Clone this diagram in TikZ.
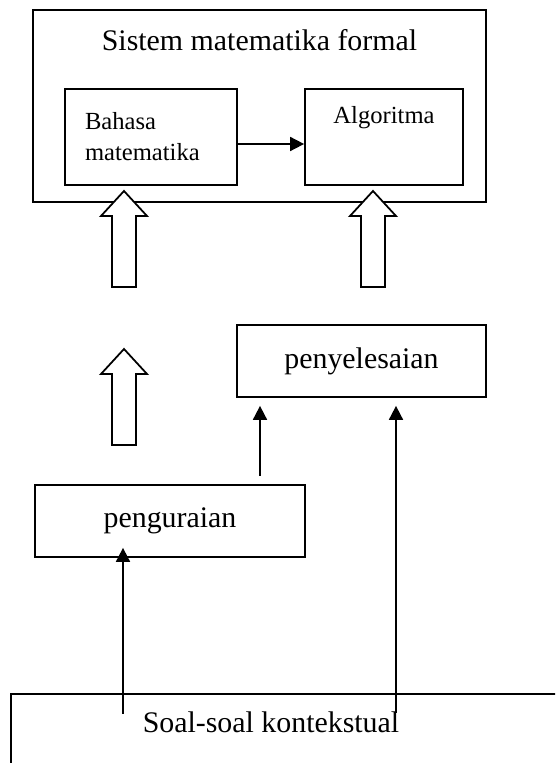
\documentclass[tikz,border=0pt]{standalone}
\usepackage{fontspec}
\setmainfont{Liberation Serif}
\usetikzlibrary{arrows.meta}

\tikzset{
  kotak/.style={draw, line width=1pt, rectangle, inner sep=0pt},
  panah/.style={-{Triangle[width=0.28cm,length=0.28cm]}, line width=1pt},
  besar/.style={font=\fontsize{17}{20}\selectfont},
  kecil/.style={font=\fontsize{14}{17.6}\selectfont},
  pics/blokpanah/.style={code={
    \draw[line width=1pt, fill=white] (-0.24,0) -- (-0.24,#1-0.5) -- (-0.46,#1-0.5) -- (0,#1)
      -- (0.46,#1-0.5) -- (0.24,#1-0.5) -- (0.24,0) -- cycle;
  }}
}

\begin{document}
\begin{tikzpicture}
    \useasboundingbox (0,0) rectangle (11.1,15.26);
    \clip (0,0) rectangle (11.1,15.26);

    % Kotak sistem matematika formal
    \node[kotak, minimum width=9.06cm, minimum height=3.84cm] (sistem) at (5.19,13.14) {};
    \node[besar, anchor=base] (judul) at (5.19,14.24) {Sistem matematika formal};

    % Panah blok
    \pic at (2.48,9.52) {blokpanah=1.92};
    \pic at (7.46,9.52) {blokpanah=1.92};
    \pic at (2.48,6.36) {blokpanah=1.92};

    % Kotak di dalam
    \node[kotak, kecil, minimum width=3.44cm, minimum height=1.92cm, text width=2.64cm, align=left] (bahasa) at (3.02,12.52) {Bahasa\\matematika};
    \node[kotak, kecil, minimum width=3.16cm, text height=0.7cm, text depth=1.22cm] (algoritma) at (7.68,12.52) {Algoritma};
    \draw[panah] ([yshift=-0.14cm]bahasa.east) -- ([yshift=-0.14cm]algoritma.west);

    % Kotak penyelesaian dan penguraian
    \node[kotak, besar, minimum width=4.98cm, minimum height=1.44cm] (penyelesaian) at (7.23,8.04) {penyelesaian};
    \node[kotak, besar, minimum width=5.4cm, minimum height=1.44cm] (penguraian) at (3.4,4.84) {penguraian};

    % Kotak soal-soal kontekstual
    \draw[line width=1pt] (11.4,1.38) -- (0.22,1.38) -- (0.22,-0.3);
    \node[besar, anchor=base] (soal) at (5.42,0.6) {Soal-soal kontekstual};

    % Panah tipis
    \coordinate (u1) at (2.46,0.98);
    \coordinate (u2) at (7.92,1.0);
    \coordinate (u3) at (5.2,5.74);
    \draw[panah, shorten >=-0.2cm] (u1) -- (u1 |- penguraian.south);
    \draw[panah, shorten >=0.16cm] (u2) -- (u2 |- penyelesaian.south);
    \draw[panah, shorten >=0.16cm] (u3) -- (u3 |- penyelesaian.south);
\end{tikzpicture}
\end{document}
